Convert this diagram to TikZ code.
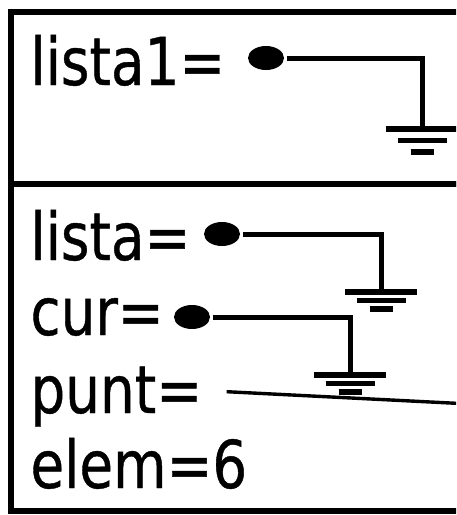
\documentclass[tikz,border=0pt]{standalone}
\usepackage{fontspec}
\setmainfont{DejaVu Sans}[FakeStretch=0.83,FakeBold=0.6]
\usetikzlibrary{shapes.geometric}

\tikzset{pics/ground/.style={code={
  \draw[line width=2.7pt] (-36,0) -- (36,0);
  \draw[line width=2.7pt] (-24.5,#1) -- (24.5,#1);
  \draw[line width=2.7pt] (-11.5,2*#1) -- (11.5,2*#1);
}}}

\begin{document}
\begin{tikzpicture}[x=0.5pt, y=-0.5pt, line width=2.5pt,
  var/.style={anchor=base west, inner sep=0pt, font=\fontsize{33}{33}\selectfont},
  dot/.style={ellipse, fill, inner sep=0pt, minimum width=18pt, minimum height=12pt}]
  \useasboundingbox (0,0) rectangle (456,515);
  \clip (0,0) rectangle (456,515);
  \draw[line width=2.6pt] (11,12) rectangle (470,184);
  \draw[line width=2.6pt] (11,184) rectangle (470,511);

  \node[var] (lista1) at (28,85) {lista1=};
  \node[dot] (d1) at (266,58) {};
  \coordinate (g1) at (422,129);
  \draw (d1) -| (g1) pic {ground=11.5};

  \node[var] (lista) at (28,260) {lista=};
  \node[dot] (d2) at (222,234) {};
  \coordinate (g2) at (381,292);
  \draw (d2) -| (g2) pic {ground=8.5};

  \node[var] (cur) at (28,335) {cur=};
  \node[dot] (d3) at (192,317) {};
  \coordinate (g3) at (350,375);
  \draw (d3) -| (g3) pic {ground=8.5};

  \node[var] (punt) at (28,413) {punt=};
  \coordinate (p) at (470,404);
  \draw[line width=1.7pt] ([xshift=11pt,yshift=2.5pt]punt.east) -- (p);

  \node[var] (elem) at (28,488) {elem=6};
\end{tikzpicture}
\end{document}
